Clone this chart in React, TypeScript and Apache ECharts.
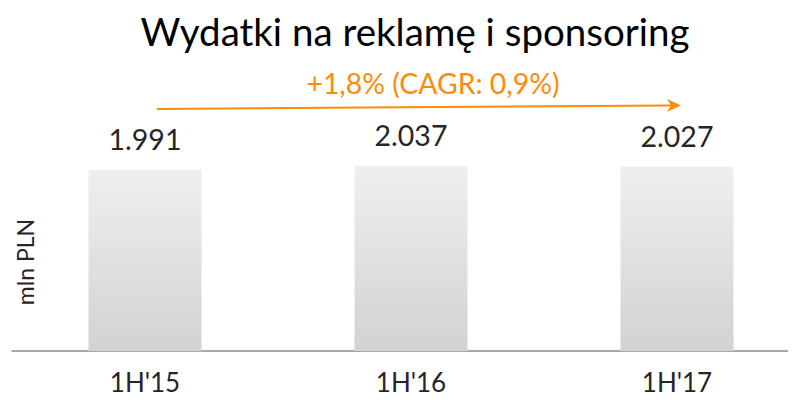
import React, { useEffect, useRef } from "react";
import * as echarts from "echarts";

const categories = ["1H'15", "1H'16", "1H'17"];
const values = [1991, 2037, 2027];
const titleText = "Wydatki na reklamę i sponsoring";
const growthText = "+1,8% (CAGR: 0,9%)";
const yName = "mln PLN";

export default function App() {
  const ref = useRef<HTMLDivElement>(null);
  useEffect(() => {
    if (!ref.current) return;
    const chart = echarts.init(ref.current, undefined, { renderer: "svg" });
    const font = "Lato, 'Open Sans', sans-serif";
    const orange = "#FA8C0A";
    chart.setOption({
      animation: false,
      title: {
        text: titleText,
        left: 410,
        textAlign: "center",
        top: 6,
        textStyle: { fontFamily: font, fontSize: 38.5, fontWeight: "normal", color: "#000" },
      },
      grid: { left: 12, top: 123.7, bottom: 52, right: -14, outerBoundsMode: "none", containLabel: false },
      xAxis: {
        type: "category",
        data: categories,
        axisLine: { lineStyle: { color: "#8c8c8c", width: 1.5 } },
        axisTick: { show: false },
        axisLabel: { fontFamily: font, fontSize: 26, color: "#262626", margin: 18 },
      },
      yAxis: {
        type: "value",
        min: 0,
        max: 2500,
        axisLine: { show: false },
        axisTick: { show: false },
        axisLabel: { show: false },
        splitLine: { show: false },
      },
      series: [
        {
          type: "bar",
          data: values,
          barWidth: "42.5%",
          itemStyle: {
            color: new echarts.graphic.LinearGradient(0, 0, 0, 1, [
              { offset: 0, color: "#efefef" },
              { offset: 1, color: "#d2d2d2" },
            ]),
          },
          label: {
            show: true,
            position: "top",
            distance: 16,
            fontFamily: font,
            fontSize: 28.5,
            color: "#262626",
            formatter: (p: any) => {
              const v = String(p.value);
              return v.slice(0, v.length - 3) + "." + v.slice(v.length - 3);
            },
          },
        },
      ],
      graphic: [
        {
          type: "text",
          x: 25,
          y: 262,
          rotation: Math.PI / 2,
          style: {
            text: yName,
            fontFamily: font,
            fontSize: 23,
            fill: "#262626",
            textAlign: "center",
            textVerticalAlign: "middle",
          },
        },
        {
          type: "text",
          x: 433,
          y: 83,
          style: {
            text: growthText,
            fontFamily: font,
            fontSize: 28.4,
            fill: orange,
            textAlign: "center",
            textVerticalAlign: "middle",
          },
        },
        {
          type: "line",
          shape: { x1: 157, y1: 109, x2: 672, y2: 105.5 },
          style: { stroke: orange, lineWidth: 2 },
        },
        {
          type: "polygon",
          shape: { points: [[681, 105.4], [667, 99], [671, 105.5], [667, 112]] },
          style: { fill: orange },
        },
      ],
    });
    return () => chart.dispose();
  }, []);
  return <div ref={ref} style={{ width: 796, height: 403, margin: -8 }} />;
}
